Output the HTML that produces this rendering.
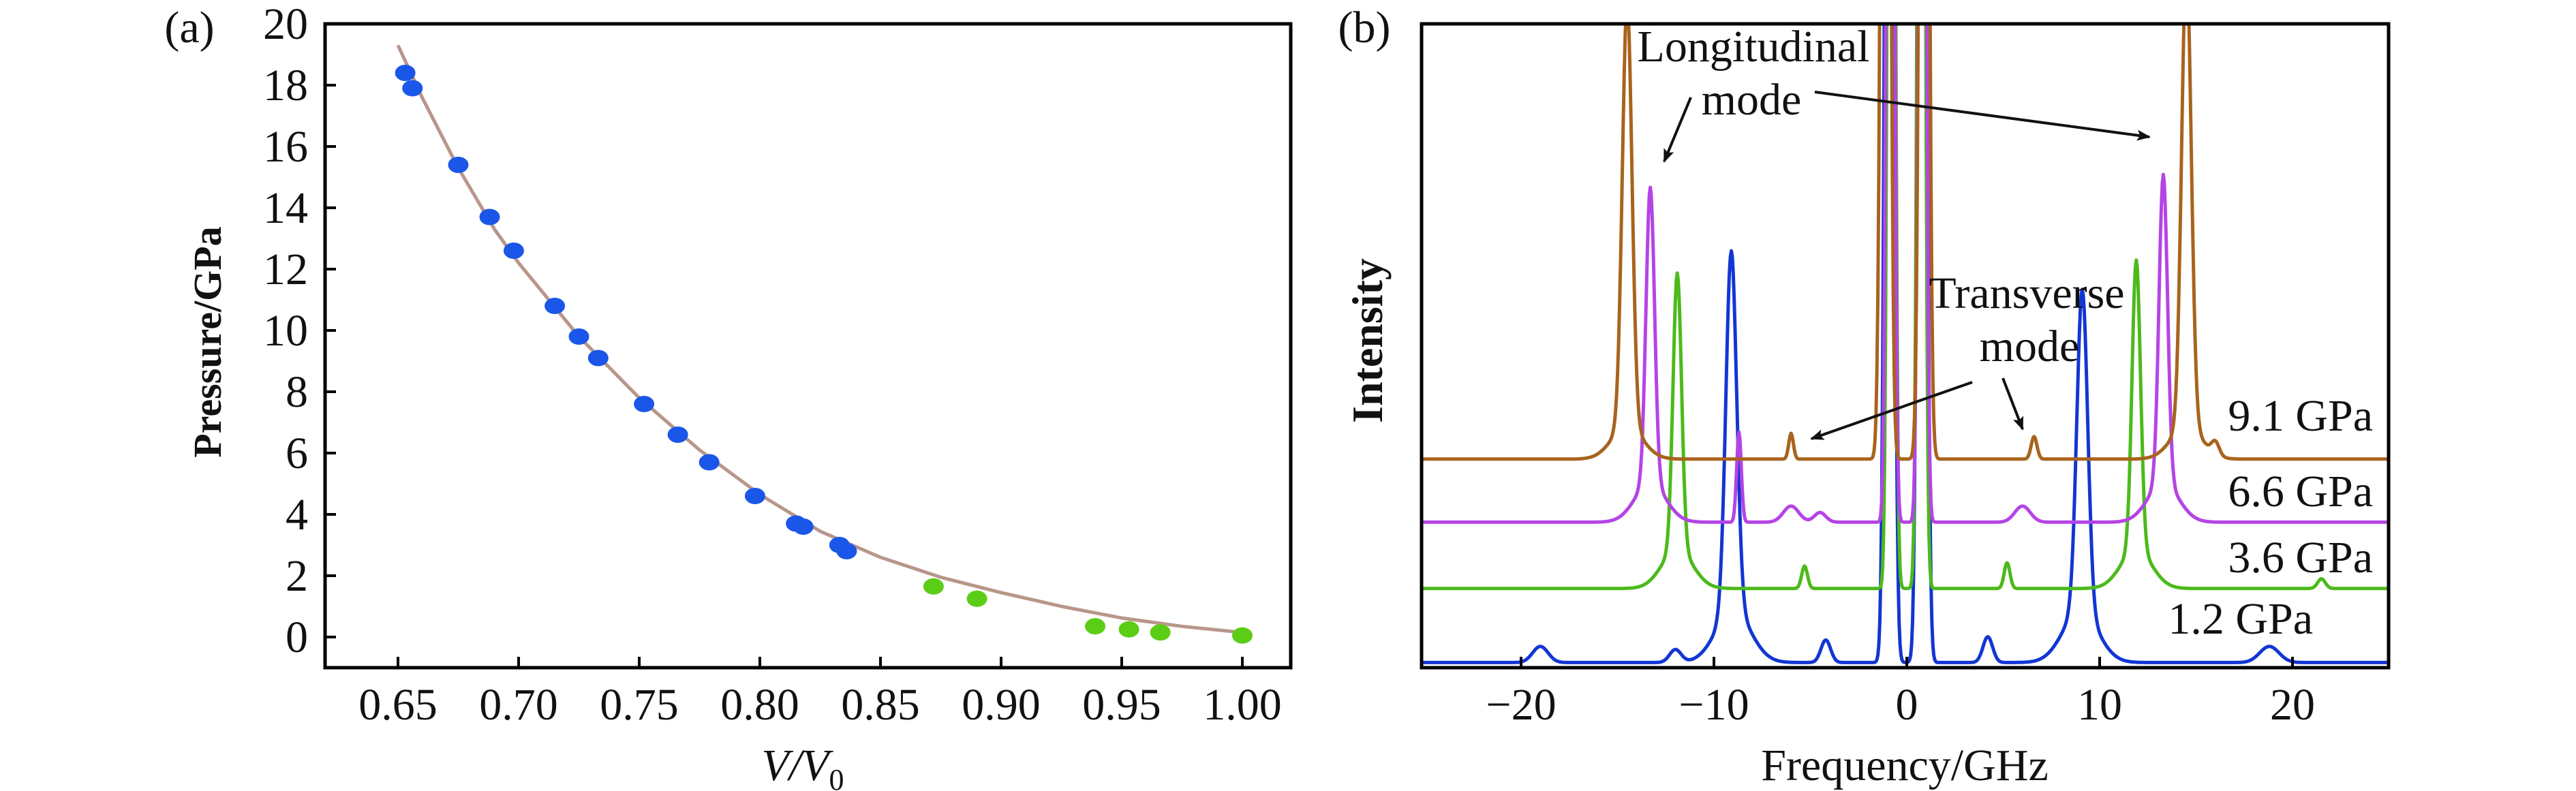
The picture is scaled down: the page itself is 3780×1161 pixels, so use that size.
<!DOCTYPE html>
<html><head><meta charset="utf-8"><style>
html,body{margin:0;padding:0;background:#fff;}
svg{display:block;font-family:"Liberation Serif",serif;}
</style></head><body>
<svg id="root" width="3780" height="1161" viewBox="0 0 3780 1161" xmlns="http://www.w3.org/2000/svg">
<defs>
<clipPath id="clipb"><rect x="2086" y="35" width="1419" height="945"/></clipPath>
<marker id="ah" viewBox="0 0 10 10" refX="9" refY="5" markerWidth="7" markerHeight="5" orient="auto" markerUnits="strokeWidth"><path d="M0,1 L10,5 L0,9 L2,5 Z" fill="#111"/></marker>
</defs>
<g id="pa"></g>
<g id="pb"></g>
</svg>
<script>
// ---------- Panel (a) data ----------
const aXTicks = [0.65,0.70,0.75,0.80,0.85,0.90,0.95,1.00];
const aXTickLabels = ["0.65","0.70","0.75","0.80","0.85","0.90","0.95","1.00"];
const aYTicks = [0,2,4,6,8,10,12,14,16,18,20];
const aYTickLabels = ["0","2","4","6","8","10","12","14","16","18","20"];
const blueV = [0.653,0.656,0.675,0.688,0.698,0.715,0.725,0.733,0.752,0.766,0.779,0.798,0.815,0.818,0.833,0.836];
const blueP = [18.4,17.9,15.4,13.7,12.6,10.8,9.8,9.1,7.6,6.6,5.7,4.6,3.7,3.6,3.0,2.8];
const greenV = [0.872,0.890,0.939,0.953,0.966,1.000];
const greenP = [1.65,1.25,0.35,0.25,0.15,0.05];
const fitV = [0.65,0.66,0.675,0.69,0.70,0.725,0.75,0.775,0.80,0.825,0.85,0.875,0.90,0.925,0.95,0.975,1.0];
const fitP = [19.3,17.6,15.3,13.3,12.2,9.8,7.8,6.1,4.65,3.45,2.6,1.95,1.45,1.0,0.62,0.35,0.15];

// ---------- Panel (b) data ----------
const bXTicks = [-20,-10,0,10,20];
const bXTickLabels = ["\u221220","\u221210","0","10","20"];
const seriesNames = ["1.2 GPa","3.6 GPa","6.6 GPa","9.1 GPa"];
const seriesColors = ["#1236d4","#4cba1a","#b444e6","#a8641c"];
const baselines = [0.8, 12.3, 22.6, 32.4];
// peaks: [position GHz, height, sigma GHz]
const peaks12 = [[-9.1,56,0.28],[9.1,50,0.28],[-9.0,8,0.9],[9.0,8,0.9],[-0.9,300,0.18],[0.8,300,0.18],[-4.2,3.5,0.25],[4.2,4,0.25],[-19,2.5,0.4],[18.8,2.5,0.5],[-12,2,0.3]];
const peaks36 = [[-11.9,43,0.22],[11.9,45,0.22],[-11.9,6,0.8],[11.9,6,0.8],[-0.8,300,0.15],[0.75,300,0.15],[-5.3,3.5,0.15],[5.2,4,0.15],[21.5,1.5,0.2]];
const peaks66 = [[-13.3,46,0.22],[13.3,48,0.22],[-13.3,6,0.8],[13.3,6,0.8],[-8.7,14,0.12],[-0.85,300,0.15],[0.8,300,0.15],[-6.0,2.5,0.4],[6.0,2.5,0.4],[-4.5,1.5,0.3]];
const peaks91 = [[-14.5,66,0.25],[14.5,72,0.25],[-14.5,5,0.8],[14.5,5,0.8],[-1.1,300,0.18],[0.9,300,0.18],[-6.0,4,0.12],[6.6,3.5,0.15],[16,2,0.2]];
const seriesPeaks = [peaks12, peaks36, peaks66, peaks91];
const labelY = [930,840,743,632];
const labelRight = [3394,3482,3482,3482];

const NS = "http://www.w3.org/2000/svg";
function mk(tag, attrs, parent){
  const e = document.createElementNS(NS, tag);
  for (const k in attrs) e.setAttribute(k, attrs[k]);
  parent.appendChild(e);
  return e;
}

// ---------- Panel (a) ----------
const pa = document.getElementById('pa');
const aL=477, aR=1894, aT=35, aB=980;
const ax = v => 584 + (v-0.65)*3540;
const ay = p => 935 - p*45;

let fr = mk('rect',{x:aL,y:aT,width:aR-aL,height:aB-aT,fill:'none',stroke:'#000','stroke-width':5},pa);



aYTicks.forEach((t,i)=>{
  if (t < 20) {
    const l = mk('line',{x1:aL,x2:aL+16,y1:ay(t),y2:ay(t),stroke:'#000','stroke-width':4},pa);
    
    
  }
  const tx = mk('text',{x:452,y:ay(t)+22,'text-anchor':'end','font-size':66,fill:'#111'},pa);
  tx.textContent = aYTickLabels[i];
  
  
});
aXTicks.forEach((t,i)=>{
  const l = mk('line',{x1:ax(t),x2:ax(t),y1:aB,y2:aB-16,stroke:'#000','stroke-width':4},pa);
  
  
  const tx = mk('text',{x:ax(t),y:1056,'text-anchor':'middle','font-size':66,fill:'#111'},pa);
  tx.textContent = aXTickLabels[i];
  
  
});

let d = fitV.map((v,i)=>(i?'L':'M')+ax(v).toFixed(1)+','+ay(fitP[i]).toFixed(1)).join(' ');
let fit = mk('path',{d:d,fill:'none',stroke:'#b8968a','stroke-width':5,'stroke-linejoin':'round'},pa);



blueV.forEach((v,i)=>{
  const c = mk('ellipse',{cx:ax(v),cy:ay(blueP[i]),rx:15,ry:12,fill:'#1a56e8'},pa);
  
  
});
greenV.forEach((v,i)=>{
  const c = mk('ellipse',{cx:ax(v),cy:ay(greenP[i]),rx:15,ry:12,fill:'#5ccd16'},pa);
  
  
});

let t;
t = mk('text',{x:278,y:62,'text-anchor':'middle','font-size':66,fill:'#111'},pa);
t.textContent='(a)';


t = mk('text',{x:0,y:0,'text-anchor':'middle','font-size':58,'font-weight':'bold',fill:'#111',transform:'translate(324,502) rotate(-90)'},pa);
t.textContent='Pressure/GPa';


t = mk('text',{x:1178,y:1145,'text-anchor':'middle','font-size':66,'font-style':'italic',fill:'#111'},pa);
t.innerHTML='V/V<tspan font-style="normal" font-size="44" dy="14">0</tspan>';



// ---------- Panel (b) ----------
const pb = document.getElementById('pb');
const bL=2086, bR=3505, bT=35, bB=980;
const bx = f => 2798 + f*28.3;
const by = v => bB - v*9.45;

const plotG = mk('g',{'clip-path':'url(#clipb)'},pb);


seriesPeaks.forEach((pk,si)=>{
  let pts=[];
  for (let f=-25.2; f<=25.2; f+=0.05){
    let v = baselines[si];
    pk.forEach(p=>{ const z=(f-p[0])/p[2]; v += p[1]*Math.exp(-0.5*z*z); });
    pts.push(bx(f).toFixed(1)+','+by(v).toFixed(1));
  }
  const pl = mk('polyline',{points:pts.join(' '),fill:'none',stroke:seriesColors[si],'stroke-width':5,'stroke-linejoin':'round'},plotG);
  
  
});

fr = mk('rect',{x:bL,y:bT,width:bR-bL,height:bB-bT,fill:'none',stroke:'#000','stroke-width':5},pb);



bXTicks.forEach((tk,i)=>{
  const l = mk('line',{x1:bx(tk),x2:bx(tk),y1:bB,y2:bB-16,stroke:'#000','stroke-width':4},pb);
  
  
  const tx = mk('text',{x:bx(tk),y:1056,'text-anchor':'middle','font-size':66,fill:'#111'},pb);
  tx.textContent = bXTickLabels[i];
  
  
});

seriesNames.forEach((n,i)=>{
  const tx = mk('text',{x:labelRight[i],y:labelY[i],'text-anchor':'end','font-size':66,fill:'#111'},pb);
  tx.textContent = n;
  
  
});

t = mk('text',{x:2002,y:62,'text-anchor':'middle','font-size':66,fill:'#111'},pb);
t.textContent='(b)';


t = mk('text',{x:0,y:0,'text-anchor':'middle','font-size':64,'font-weight':'bold',fill:'#111',transform:'translate(2028,500) rotate(-90)'},pb);
t.textContent='Intensity';


t = mk('text',{x:2795,y:1145,'text-anchor':'middle','font-size':66,fill:'#111'},pb);
t.textContent='Frequency/GHz';



t = mk('text',{x:2573,y:90,'text-anchor':'middle','font-size':66,fill:'#111'},pb);
t.textContent='Longitudinal';


t = mk('text',{x:2570,y:168,'text-anchor':'middle','font-size':66,fill:'#111'},pb);
t.textContent='mode';


t = mk('text',{x:2974,y:452,'text-anchor':'middle','font-size':66,fill:'#111'},pb);
t.textContent='Transverse';


t = mk('text',{x:2978,y:530,'text-anchor':'middle','font-size':66,fill:'#111'},pb);
t.textContent='mode';



const arrows = [[2481,143,2442,237],[2663,135,3154,201],[2894,561,2658,644],[2939,555,2968,630]];
arrows.forEach(a=>{
  const l = mk('line',{x1:a[0],y1:a[1],x2:a[2],y2:a[3],stroke:'#111','stroke-width':4,'marker-end':'url(#ah)'},pb);
  
  
});
</script>
</body></html>
